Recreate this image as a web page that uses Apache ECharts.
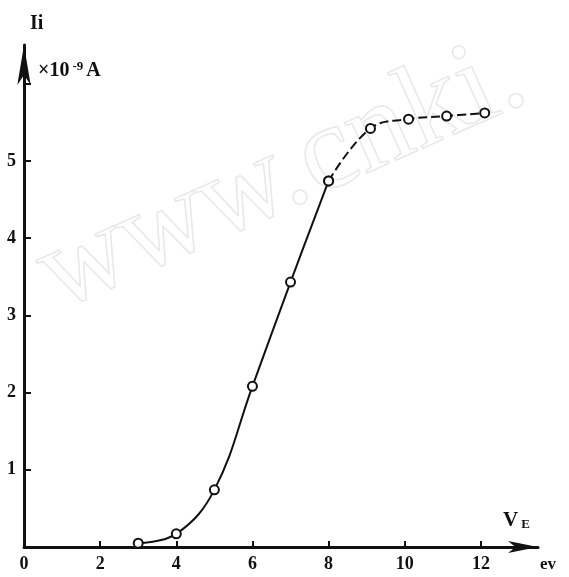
<!DOCTYPE html>
<html>
<head>
<meta charset="UTF-8"/>
<script src="https://cdn.jsdelivr.net/npm/echarts@6/dist/echarts.min.js"></script>
<style type="text/css">
	html, body { margin:0; padding:0; background:#fff; }
	#chart { width:569px; height:577px; }
</style>
</head>
<body>
<div id="chart"></div>
<script type="text/javascript">
// V_E (eV) and Ii (x10^-9 A)
var xSolid = [3, 4, 5, 6, 7, 8];
var ySolid = [0.05, 0.17, 0.74, 2.08, 3.43, 4.74];
var xDash = [8, 9.1, 10.1, 11.1, 12.1];
var yDash = [4.74, 5.42, 5.54, 5.58, 5.62];
var xTicks = [0, 2, 4, 6, 8, 10, 12];
var yTicks = [1, 2, 3, 4, 5];

function pairs(xs, ys){
	var out = [];
	for(var i=0;i<xs.length;i++){
		out.push([xs[i], ys[i]]);
	}
	return out;
}

var serif = '"Liberation Serif", "DejaVu Serif", serif';
var chart = echarts.init(document.getElementById('chart'));

var option = {
	backgroundColor: '#fff',
	animation: false,
	grid: { left: 24, right: 31, top: 45, bottom: 30 },
	xAxis: {
		type: 'value',
		min: 0, max: 13.5, interval: 2,
		splitLine: { show: false },
		axisLine: { lineStyle: { color: '#111', width: 3 }, symbol: ['none', 'arrow'], symbolSize: [9, 30], symbolOffset: [0, 0] },
		axisTick: { inside: true, length: 6, lineStyle: { color: '#111', width: 2 } },
		axisLabel: {
			margin: 8, color: '#111', fontFamily: serif, fontWeight: 'bold', fontSize: 18,
			showMaxLabel: false,
			formatter: function(v){ return xTicks.indexOf(v) >= 0 ? String(v) : ''; }
		}
	},
	yAxis: {
		type: 'value',
		min: 0, max: 6.5, interval: 1,
		splitLine: { show: false },
		axisLine: { lineStyle: { color: '#111', width: 3 }, symbol: ['none', 'arrow'], symbolSize: [10, 40], symbolOffset: [0, 0] },
		axisTick: { inside: true, length: 7, lineStyle: { color: '#111', width: 2 } },
		axisLabel: {
			margin: 8, color: '#111', fontFamily: serif, fontWeight: 'bold', fontSize: 18,
			showMinLabel: false, showMaxLabel: false,
			formatter: function(v){ return yTicks.indexOf(v) >= 0 ? String(v) : ''; }
		}
	},
	graphic: [
		{
			type: 'text', left: 20, top: 15, rotation: 0.42, z: 0,
			style: { text: 'www.cnki.', font: '120px "Liberation Serif", serif', fill: 'none', stroke: '#e8e8e8', lineWidth: 1.5 }
		},
		{
			type: 'text', left: 30, top: 14,
			style: { text: 'Ii', font: 'bold 20px "Liberation Serif", serif', fill: '#111' }
		},
		{
			type: 'text', left: 38, top: 60,
			style: {
				text: '{a|×10}{b|-9}{a|A}',
				rich: {
					a: { font: 'bold 20px "Liberation Serif", serif', fill: '#111' },
					b: { font: 'bold 13px "Liberation Serif", serif', fill: '#111', verticalAlign: 'top', padding: [0, 3, 8, 3] }
				}
			}
		},
		{
			type: 'text', left: 503, top: 510,
			style: {
				text: '{a|V}{b|E}',
				rich: {
					a: { font: 'bold 21px "Liberation Serif", serif', fill: '#111' },
					b: { font: 'bold 13px "Liberation Serif", serif', fill: '#111', verticalAlign: 'bottom', padding: [6, 0, 0, 3] }
				}
			}
		},
		{
			type: 'text', left: 540, top: 556,
			style: { text: 'ev', font: 'bold 17px "Liberation Serif", serif', fill: '#111' }
		}
	],
	series: [
		{
			name: 'solid',
			type: 'line',
			smooth: 0.4,
			data: pairs(xSolid, ySolid),
			symbol: 'emptyCircle',
			symbolSize: 9,
			itemStyle: { color: '#111', borderWidth: 2 },
			lineStyle: { color: '#111', width: 2 }
		},
		{
			name: 'dash',
			type: 'line',
			smooth: 0.4,
			data: pairs(xDash, yDash),
			symbol: 'emptyCircle',
			symbolSize: 9,
			itemStyle: { color: '#111', borderWidth: 2 },
			lineStyle: { color: '#111', width: 2, type: [9, 4] }
		}
	]
};

chart.setOption(option);
</script>
</body>
</html>
